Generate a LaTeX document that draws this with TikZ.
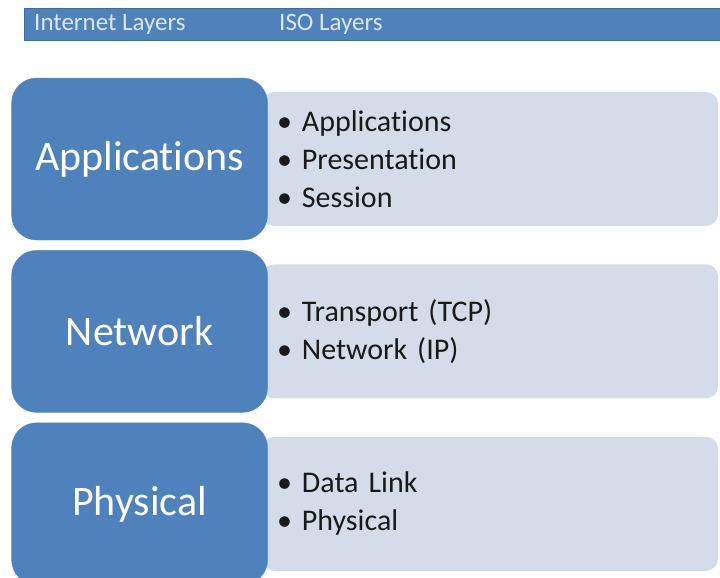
\documentclass[tikz,border=0pt]{standalone}
\usepackage{fontspec}
\setmainfont{Carlito}[Ligatures=NoCommon]
\usepackage{tikz}
\usetikzlibrary{positioning}

\definecolor{layerblue}{HTML}{4F81BD}
\definecolor{layeredge}{HTML}{3F6A9E}
\definecolor{isofill}{HTML}{D5DCE9}
\definecolor{headtext}{HTML}{DCE6F2}

% bullet list font with a narrower word space
\newcommand{\isofont}{\fontsize{30}{38}\selectfont\fontdimen2\font=4.5pt\relax}

\begin{document}
\begin{tikzpicture}[x=1pt,y=-1pt,node distance=38pt,
  layer/.style={rectangle,rounded corners=25pt,fill=layerblue,draw=layerblue!92!white,
    minimum width=256pt,minimum height=162pt,text=white,font=\fontsize{42}{46}\selectfont},
  iso/.style={rectangle,rounded corners=12pt,fill=isofill,minimum height=134pt,
    text width=426pt,inner xsep=15pt,align=left,text=black!90,font=\isofont},
  head/.style={text=headtext,font=\fontsize{25}{27}\selectfont,inner sep=0pt,anchor=west}]
  \useasboundingbox (0,0) rectangle (720,578);

  % header bar
  \node[draw=layeredge,fill=layerblue,minimum width=696pt,minimum height=32pt,anchor=north west] (bar) at (24,8) {};
  \node[head] (inet) at (34,24) {Internet Layers};
  \node[head] (isohead) at (279,24) {ISO Layers};

  % ISO layers, drawn first so the blue boxes sit on top
  \node[iso] (isoapp) at (490,159) {\textbullet\ Applications\\ \textbullet\ Presentation\\ \textbullet\ Session};
  \node[iso,below=of isoapp] (isonet) {\textbullet\ Transport (TCP)\\ \textbullet\ Network (IP)};
  \node[iso,below=of isonet] (isophy) {\textbullet\ Data Link\\ \textbullet\ Physical};

  % internet layers
  \node[layer,left=-6pt of isoapp] (app) {Applications};
  \node[layer,left=-6pt of isonet] (net) {Network};
  \node[layer,left=-6pt of isophy] (phy) {Physical};
\end{tikzpicture}
\end{document}
